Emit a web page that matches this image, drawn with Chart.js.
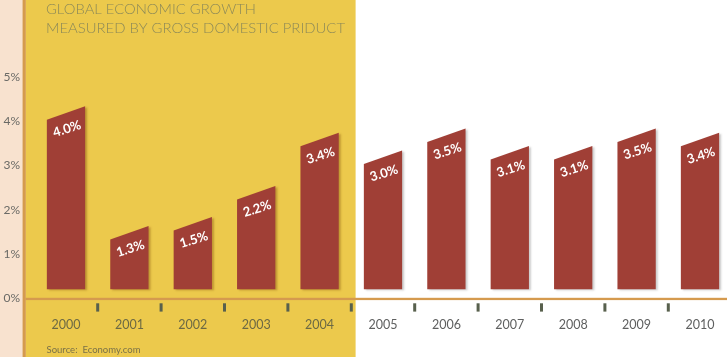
<!DOCTYPE html>
<html>
<head>
<meta charset="utf-8">
<script src="https://cdn.jsdelivr.net/npm/chart.js@4"></script>
<style>
html,body{margin:0;padding:0;background:#fff;overflow:hidden;}
#wrap{width:727px;height:357px;overflow:hidden;position:relative;}
canvas{display:block;}
</style>
</head>
<body>
<div id="wrap"><canvas id="c" width="732" height="357" style="width:732px;height:357px"></canvas></div>
<script>
// ---- data ----
const years = ['2000','2001','2002','2003','2004','2005','2006','2007','2008','2009','2010'];
const growth = [4.0, 1.3, 1.5, 2.2, 3.4, 3.0, 3.5, 3.1, 3.1, 3.5, 3.4];
const growthLabels = ['4.0%','1.3%','1.5%','2.2%','3.4%','3.0%','3.5%','3.1%','3.1%','3.5%','3.4%'];
const yTickValues = [0, 1, 2, 3, 4, 5];
const yTickLabels = ['0%','1%','2%','3%','4%','5%'];
const titleLines = ['GLOBAL ECONOMIC GROWTH', 'MEASURED BY GROSS DOMESTIC PRIDUCT'];
const sourceText = 'Source:  Economy.com';
const highlightedYears = ['2000','2001','2002','2003','2004'];

// ---- style ----
const PEACH = '#f8e2cf', YELLOW = '#ecc94c', ORANGE = '#d59a4e', BAR = '#a03f36';

function fitText(ctx, text, x, y, targetW) {
  const w = ctx.measureText(text).width;
  ctx.save();
  ctx.translate(x, y);
  ctx.scale(targetW / w, 1);
  ctx.fillText(text, 0, 0);
  ctx.restore();
}

const backdrop = {
  id: 'backdrop',
  beforeDraw(chart) {
    const ctx = chart.ctx, H = chart.height, W = chart.width;
    const x = chart.scales.x;
    ctx.save();
    ctx.fillStyle = '#ffffff';
    ctx.fillRect(0, 0, W, H);
    ctx.fillStyle = PEACH;
    ctx.fillRect(0, 0, 22.5, H);
    ctx.fillStyle = YELLOW;
    // yellow panel spans highlighted years
    const lastIdx = highlightedYears.length - 1;
    const panelRight = (x.getPixelForValue(lastIdx) + x.getPixelForValue(lastIdx + 1)) / 2 + 4.3;
    ctx.fillRect(25.5, 0, panelRight - 25.5, H);
    ctx.fillStyle = ORANGE;
    ctx.fillRect(22.5, 0, 3.3, H);
    ctx.restore();
  },
  afterDraw(chart) {
    const ctx = chart.ctx;
    const x = chart.scales.x, y = chart.scales.y;
    const zeroY = y.getPixelForValue(0);
    ctx.save();
    // axis line
    ctx.fillStyle = ORANGE;
    ctx.fillRect(25.5, zeroY - 0.5, chart.width, 2.3);
    // tick marks between categories
    ctx.fillStyle = '#58604d';
    for (let i = 0; i < years.length - 1; i++) {
      const tx = (x.getPixelForValue(i) + x.getPixelForValue(i + 1)) / 2;
      ctx.fillRect(tx - 1.5, zeroY + 5, 3, 8.3);
    }
    // year labels
    ctx.font = '12.5px "Lato", "DejaVu Sans", sans-serif';
    ctx.textAlign = 'center';
    ctx.textBaseline = 'middle';
    years.forEach((yr, i) => {
      ctx.fillStyle = highlightedYears.includes(yr) ? '#6c6944' : '#5f6060';
      ctx.fillText(yr, x.getPixelForValue(i), zeroY + 26.5);
    });
    // y labels
    ctx.font = '12px "Lato", "DejaVu Sans", sans-serif';
    ctx.textAlign = 'right';
    ctx.fillStyle = '#6a6a66';
    yTickValues.forEach((v, i) => {
      ctx.fillText(yTickLabels[i], 20, y.getPixelForValue(v));
    });
    // title
    ctx.textAlign = 'left';
    ctx.textBaseline = 'alphabetic';
    ctx.fillStyle = '#8c8958';
    ctx.font = '300 13.5px "Lato", "DejaVu Sans", sans-serif';
    fitText(ctx, titleLines[0], 46, 13.5, 210);
    fitText(ctx, titleLines[1], 46, 32.5, 299);
    // source
    ctx.fillStyle = '#7a7148';
    ctx.font = '10px "Lato", "DejaVu Sans", sans-serif';
    fitText(ctx, sourceText, 46.5, 352.5, 94);
    ctx.restore();
  }
};

const slantBars = {
  id: 'slantBars',
  afterDatasetsDraw(chart) {
    const ctx = chart.ctx;
    const meta = chart.getDatasetMeta(0);
    const SLANT = 13.5, LIFT = 9;
    ctx.save();
    meta.data.forEach((el, i) => {
      const p = el.getProps(['x', 'y', 'base', 'width'], true);
      const l = p.x - p.width / 2, r = p.x + p.width / 2;
      const bottom = p.base - LIFT;
      const topL = p.y - 1.3, topR = topL - SLANT;
      ctx.save();
      ctx.shadowColor = highlightedYears.includes(years[i]) ? 'rgba(140,90,20,0.45)' : 'rgba(90,90,90,0.3)';
      ctx.shadowOffsetX = 2;
      ctx.shadowOffsetY = 1;
      ctx.shadowBlur = 2;
      ctx.fillStyle = BAR;
      ctx.beginPath();
      ctx.moveTo(l, bottom);
      ctx.lineTo(l, topL);
      ctx.lineTo(r, topR);
      ctx.lineTo(r, bottom);
      ctx.closePath();
      ctx.fill();
      ctx.restore();
      // value label
      const ang = Math.atan2(-SLANT, p.width) * 0.9;
      const topMid = (topL + topR) / 2;
      ctx.save();
      ctx.translate(p.x + 1, topMid + 16);
      ctx.rotate(ang);
      ctx.fillStyle = '#ffffff';
      ctx.font = 'bold 13px "Lato", "DejaVu Sans", sans-serif';
      ctx.textAlign = 'center';
      ctx.textBaseline = 'middle';
      ctx.fillText(growthLabels[i], 0, 0);
      ctx.restore();
    });
    ctx.restore();
  }
};

new Chart(document.getElementById('c'), {
  type: 'bar',
  data: {
    labels: years,
    datasets: [{
      data: growth,
      backgroundColor: 'rgba(0,0,0,0)',
      borderWidth: 0,
      categoryPercentage: 1,
      barPercentage: 0.604
    }]
  },
  options: {
    responsive: false,
    animation: false,
    events: [],
    layout: { padding: { left: 34.3, right: 0.3, top: 32.4, bottom: 58.7 } },
    plugins: { legend: { display: false }, tooltip: { enabled: false }, title: { display: false } },
    scales: {
      x: { display: false, offset: true, grid: { display: false } },
      y: { display: false, min: 0, max: 6, grid: { display: false } }
    }
  },
  plugins: [backdrop, slantBars]
});
</script>
</body>
</html>
